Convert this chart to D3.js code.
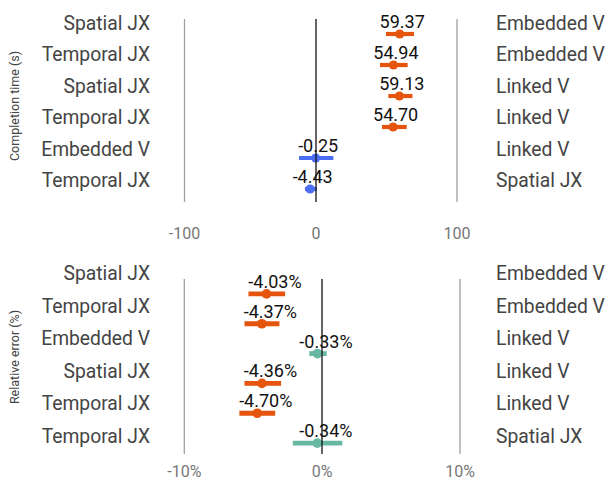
<!DOCTYPE html>
<html>
<head>
<meta charset="utf-8">
<script src="https://cdn.jsdelivr.net/npm/d3@7"></script>
<style>
body{margin:0;background:#fff;}
text{font-family:Roboto,"Noto Sans",sans-serif;}
</style>
</head>
<body>
<div id="chart"></div>
<script>
// completion time panel
var timeLeft = ["Spatial JX","Temporal JX","Spatial JX","Temporal JX","Embedded V","Temporal JX"];
var timeRight = ["Embedded V","Embedded V","Linked V","Linked V","Linked V","Spatial JX"];
var timeMean = [59.37,54.94,59.13,54.70,-0.25,-4.43];
var timeLow = [49.6,45.4,51.3,46.8,-12.9,-8.4];
var timeHigh = [69.5,65.0,68.4,64.3,12.3,0.5];
var timeText = ["59.37","54.94","59.13","54.70","-0.25","-4.43"];
var timeGroup = ["slow","slow","slow","slow","fast","fast"];
var timeTicks = [-100,0,100];
var timeTickText = ["-100","0","100"];

// relative error panel
var errLeft = ["Spatial JX","Temporal JX","Embedded V","Spatial JX","Temporal JX","Temporal JX"];
var errRight = ["Embedded V","Embedded V","Linked V","Linked V","Linked V","Spatial JX"];
var errMean = [-4.03,-4.37,-0.33,-4.36,-4.70,-0.34];
var errLow = [-5.34,-5.63,-0.92,-5.63,-6.0,-2.12];
var errHigh = [-2.68,-3.09,0.34,-2.97,-3.4,1.47];
var errText = ["-4.03%","-4.37%","-0.33%","-4.36%","-4.70%","-0.34%"];
var errGroup = ["slow","slow","even","slow","slow","even"];
var errTicks = [-10,0,10];
var errTickText = ["-10%","0%","10%"];

var colors = {slow:"#e6550d", fast:"#4c6ef5", even:"#66b8a2"};

var svg = d3.select('#chart').append('svg')
    .attr('width',605)
    .attr('height',480);

function drawPanel(p){
    var g = svg.append('g');
    var idx = d3.range(p.mean.length);

    var x = d3.scaleLinear().domain([p.ticks[0],0,p.ticks[2]]).range(p.xr);
    var yDot = d3.scaleBand().domain(idx).range(p.dotRange);
    var yLab = d3.scalePoint().domain(idx).range(p.labRange);

    // gray grid at the outer ticks
    g.selectAll('line.grid')
	.data([p.ticks[0],p.ticks[2]])
	.enter()
	.append('line')
	.attr('class','grid')
	.attr('x1',function(d){return x(d);})
	.attr('x2',function(d){return x(d);})
	.attr('y1',p.grid[0])
	.attr('y2',p.grid[1])
	.attr('stroke','#9e9e9e')
	.attr('stroke-width',1.3);

    g.selectAll('text.tick')
	.data(p.ticks)
	.enter()
	.append('text')
	.attr('class','tick')
	.attr('x',function(d){return x(d);})
	.attr('y',p.tickY)
	.attr('text-anchor','middle')
	.style('font-size','16px')
	.style('fill','#777')
	.text(function(d,i){return p.tickText[i];});

    g.selectAll('text.left')
	.data(idx)
	.enter()
	.append('text')
	.attr('class','left')
	.attr('x',150)
	.attr('y',function(d){return yLab(d)+7;})
	.attr('text-anchor','end')
	.style('font-size','19.3px')
	.style('fill','#444')
	.text(function(d){return p.left[d];});

    g.selectAll('text.right')
	.data(idx)
	.enter()
	.append('text')
	.attr('class','right')
	.attr('x',496)
	.attr('y',function(d){return yLab(d)+7;})
	.style('font-size','19.3px')
	.style('fill','#444')
	.text(function(d){return p.right[d];});

    g.selectAll('line.ci')
	.data(idx)
	.enter()
	.append('line')
	.attr('class','ci')
	.attr('x1',function(d){return x(p.low[d]);})
	.attr('x2',function(d){return x(p.high[d]);})
	.attr('y1',function(d){return yDot(d)+yDot.bandwidth()/2;})
	.attr('y2',function(d){return yDot(d)+yDot.bandwidth()/2;})
	.attr('stroke',function(d){return colors[p.group[d]];})
	.attr('stroke-width',p.barW);

    g.selectAll('circle')
	.data(idx)
	.enter()
	.append('circle')
	.attr('cx',function(d){return x(p.mean[d]);})
	.attr('cy',function(d){return yDot(d)+yDot.bandwidth()/2;})
	.attr('r',p.r)
	.style('fill',function(d){return colors[p.group[d]];});

    g.selectAll('text.val')
	.data(idx)
	.enter()
	.append('text')
	.attr('class','val')
	.attr('x',function(d){return x(p.mean[d])+p.dx;})
	.attr('y',function(d){return yDot(d)+yDot.bandwidth()/2-6;})
	.attr('text-anchor','middle')
	.style('font-size','18px')
	.style('fill','#111')
	.text(function(d){return p.text[d];});

    // zero line goes over everything
    g.append('line')
	.attr('x1',x(0)).attr('x2',x(0))
	.attr('y1',p.grid[0]).attr('y2',p.grid[1])
	.attr('stroke','#111')
	.attr('stroke-width',1.3);

    g.append('text')
	.attr('transform','translate(19,'+p.titleY+') rotate(-90)')
	.attr('text-anchor','middle')
	.style('font-size','12.5px')
	.style('fill','#444')
	.text(p.title);
}

drawPanel({
    left:timeLeft, right:timeRight, mean:timeMean, low:timeLow, high:timeHigh,
    text:timeText, group:timeGroup, ticks:timeTicks, tickText:timeTickText,
    xr:[184.5,316,457], dotRange:[18.5,204.5], labRange:[23,180], grid:[19,202],
    tickY:239, dx:2.5, r:4.6, barW:4.2, titleY:106, title:"Completion time (s)"
});

drawPanel({
    left:errLeft, right:errRight, mean:errMean, low:errLow, high:errHigh,
    text:errText, group:errGroup, ticks:errTicks, tickText:errTickText,
    xr:[184.3,322,460], dotRange:[279,458], labRange:[273,436], grid:[279,454],
    tickY:477, dx:8.5, r:4.8, barW:4.8, titleY:357, title:"Relative error (%)"
});
</script>
</body>
</html>
